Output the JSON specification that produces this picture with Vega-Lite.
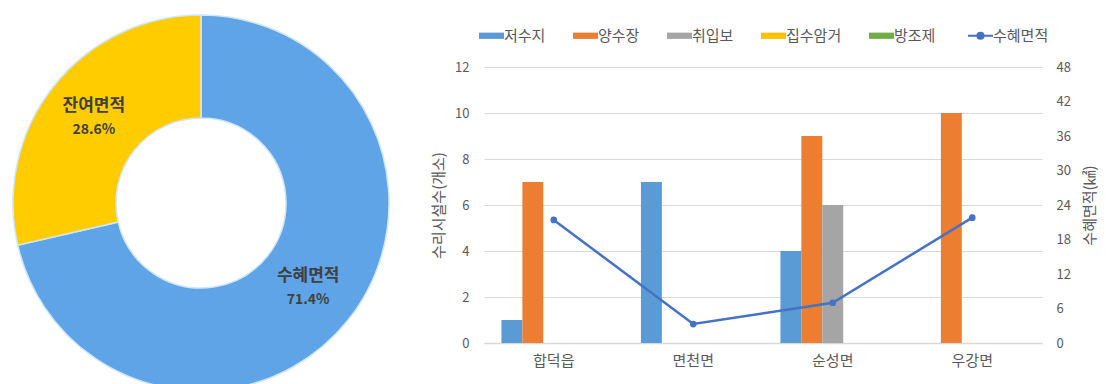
{
  "$schema": "https://vega.github.io/schema/vega-lite/v6.json",
  "padding": {"left": 0, "top": 12, "right": 0, "bottom": 0},
  "background": "white",
  "bounds": "flush",
  "spacing": 82,
  "datasets": {
    "donut": [
      {"구분": "수혜면적", "비율": 0.714},
      {"구분": "잔여면적", "비율": 0.286}
    ],
    "bars": [
      {"지역": "합덕읍", "시설": "저수지", "개소": 1},
      {"지역": "합덕읍", "시설": "양수장", "개소": 7},
      {"지역": "면천면", "시설": "저수지", "개소": 7},
      {"지역": "순성면", "시설": "저수지", "개소": 4},
      {"지역": "순성면", "시설": "양수장", "개소": 9},
      {"지역": "순성면", "시설": "취입보", "개소": 6},
      {"지역": "우강면", "시설": "양수장", "개소": 10}
    ],
    "line": [
      {"지역": "합덕읍", "수혜면적": 21.4},
      {"지역": "면천면", "수혜면적": 3.3},
      {"지역": "순성면", "수혜면적": 7.0},
      {"지역": "우강면", "수혜면적": 21.8}
    ]
  },
  "hconcat": [
    {
      "width": 402,
      "height": 272,
      "data": {"name": "donut"},
      "encoding": {
        "theta": {"field": "비율", "type": "quantitative", "stack": true},
        "order": {"field": "구분", "type": "nominal", "sort": "ascending"},
        "color": {
          "field": "구분", "type": "nominal",
          "scale": {"domain": ["수혜면적", "잔여면적"], "range": ["#5EA4E6", "#FFCC00"]},
          "legend": null
        }
      },
      "layer": [
        {
          "mark": {"type": "arc", "outerRadius": 188, "innerRadius": 85, "stroke": "#cfe6fb", "strokeWidth": 1.5}
        },
        {
          "mark": {"type": "text", "radius": 137, "dy": -12, "fontSize": 17, "fontWeight": "bold"},
          "encoding": {
            "fill": {"value": "#404040"},
            "text": {"field": "구분", "type": "nominal"}
          }
        },
        {
          "mark": {"type": "text", "radius": 137, "dy": 12, "fontSize": 14, "fontWeight": "bold"},
          "encoding": {
            "fill": {"value": "#404040"},
            "text": {"field": "비율", "type": "quantitative", "format": ".1%"}
          }
        }
      ]
    },
    {
      "width": 558,
      "height": 276,
      "layer": [
        {
          "data": {"name": "bars"},
          "mark": {"type": "bar"},
          "encoding": {
            "x": {
              "field": "지역", "type": "nominal",
              "scale": {"domain": ["합덕읍", "면천면", "순성면", "우강면"], "paddingInner": 0.25, "paddingOuter": 0.125},
              "axis": {"title": null, "labelAngle": 0, "ticks": false, "grid": false, "domainColor": "#D9D9D9", "domainWidth": 1.5, "labelFontSize": 15, "labelColor": "#595959", "labelPadding": 10}
            },
            "xOffset": {
              "field": "시설", "type": "nominal",
              "scale": {"domain": ["저수지", "양수장", "취입보", "집수암거", "방조제"], "paddingInner": 0, "paddingOuter": 0}
            },
            "y": {
              "field": "개소", "type": "quantitative",
              "scale": {"domain": [0, 12]},
              "axis": {"orient": "left", "values": [0, 2, 4, 6, 8, 10, 12], "title": "수리시설수(개소)", "domain": false, "ticks": false, "gridColor": "#D9D9D9", "labelFontSize": 13, "labelColor": "#595959", "labelPadding": 15, "titleFontSize": 15, "titleFontWeight": "normal", "titleColor": "#595959", "titlePadding": 8}
            },
            "color": {
              "field": "시설", "type": "nominal",
              "scale": {
                "domain": ["저수지", "양수장", "취입보", "집수암거", "방조제", "수혜면적"],
                "range": ["#5B9BD5", "#ED7D31", "#A5A5A5", "#FFC000", "#70AD47", "#4472C4"]
              },
              "legend": {
                "title": null,
                "orient": "none",
                "direction": "horizontal",
                "legendX": 0,
                "legendY": -39,
                "labelFontSize": 15,
                "labelColor": "#595959",
                "labelOffset": 5,
                "columnPadding": 27,
                "symbolSize": 625,
                "encode": {
                  "symbols": {
                    "update": {
                      "shape": {"signal": "datum.value === '수혜면적' ? 'M-1,0H1M-0.24,0A0.24,0.24 0 1 1 0.24,0A0.24,0.24 0 1 1 -0.24,0Z' : 'M-1,-0.25H1V0.25H-1Z'"},
                      "size": {"value": 625},
                      "fill": {"signal": "datum.value === '저수지' ? '#5B9BD5' : datum.value === '양수장' ? '#ED7D31' : datum.value === '취입보' ? '#A5A5A5' : datum.value === '집수암거' ? '#FFC000' : datum.value === '방조제' ? '#70AD47' : '#4472C4'"},
                      "stroke": {"value": "#4472C4"},
                      "strokeWidth": {"signal": "datum.value === '수혜면적' ? 2.2 : 0"},
                      "opacity": {"value": 1},
                      "fillOpacity": {"value": 1},
                      "strokeOpacity": {"value": 1}
                    }
                  }
                }
              }
            }
          }
        },
        {
          "data": {"name": "line"},
          "mark": {"type": "line", "strokeWidth": 2.5, "point": {"filled": true, "size": 45}},
          "encoding": {
            "x": {"field": "지역", "type": "nominal"},
            "y": {
              "field": "수혜면적", "type": "quantitative",
              "scale": {"domain": [0, 48]},
              "axis": {"orient": "right", "values": [0, 6, 12, 18, 24, 30, 36, 42, 48], "title": "수혜면적(㎢)", "titleAngle": 270, "titleBaseline": "top", "grid": false, "domain": false, "ticks": false, "labelFontSize": 13, "labelColor": "#595959", "labelPadding": 14, "titleFontSize": 15, "titleFontWeight": "normal", "titleColor": "#595959", "titlePadding": 12}
            },
            "color": {"datum": "수혜면적"}
          }
        }
      ],
      "resolve": {"scale": {"y": "independent"}}
    }
  ],
  "resolve": {"scale": {"color": "independent"}, "legend": {"color": "independent"}},
  "config": {
    "font": "Noto Sans CJK KR",
    "view": {"stroke": null}
  }
}
